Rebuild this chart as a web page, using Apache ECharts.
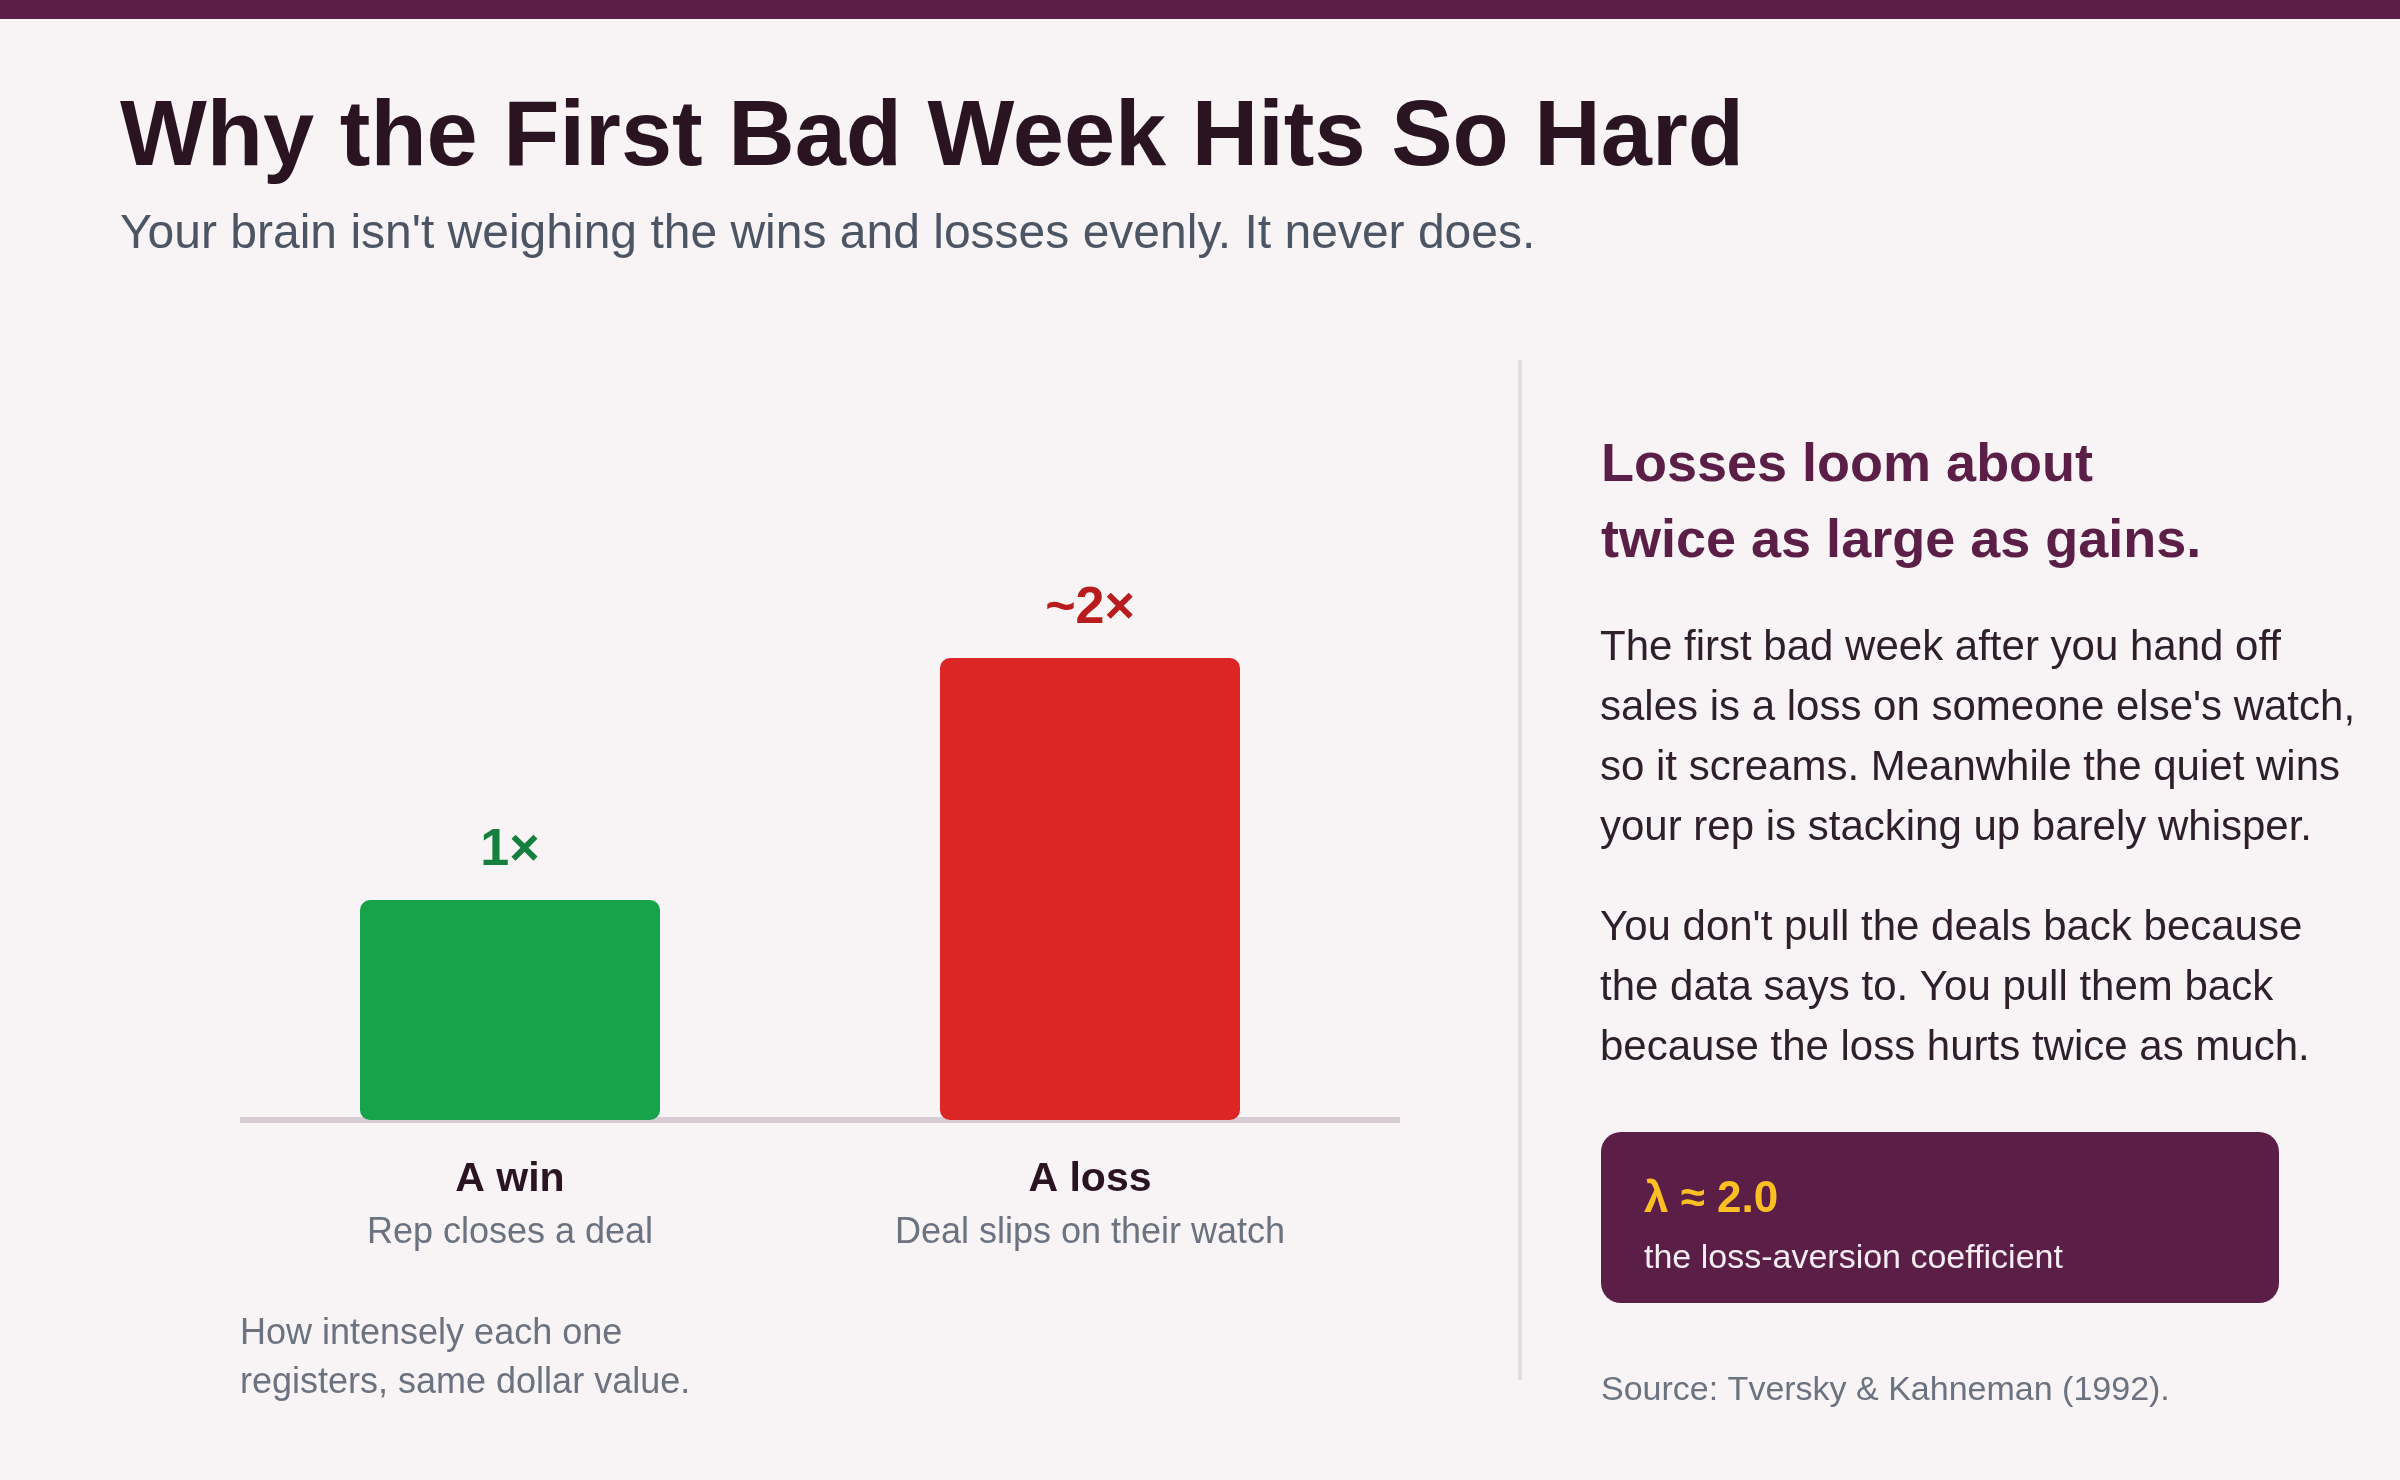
<!DOCTYPE html>
<html lang="en">
<head>
    <meta charset="UTF-8">
    <title>Why the First Bad Week Hits So Hard</title>
    <script src="https://cdn.jsdelivr.net/npm/echarts@6/dist/echarts.min.js"></script>
    <style>
        html, body { margin: 0; padding: 0; background: #f8f4f6; }
        #chart { width: 2400px; height: 1480px; }
    </style>
</head>
<body>
<div id="chart"></div>
<script>
    /* data */
    var categories = ['A win', 'A loss'];
    var subLabels = ['Rep closes a deal', 'Deal slips on their watch'];
    var intensity = [1, 2.1];
    var valueLabels = ['1×', '~2×'];
    var barColors = ['#16a34a', '#dc2626'];
    var labelColors = ['#15803d', '#b91c1c'];

    var FONT = '"Liberation Sans", Arial, Helvetica, sans-serif';
    var PLUM = '#5b1f47';

    var barData = intensity.map(function (v, i) {
        return {
            value: v,
            itemStyle: { color: barColors[i] },
            label: { color: labelColors[i], formatter: valueLabels[i] }
        };
    });

    var option = {
        backgroundColor: '#f8f4f6',
        animation: false,
        textStyle: { fontFamily: FONT },
        grid: { left: 220, width: 1160, top: 570, height: 550 },
        xAxis: {
            type: 'category',
            data: categories,
            axisLine: { show: false },
            axisTick: { show: false },
            axisLabel: {
                margin: 35,
                formatter: function (val, idx) {
                    return '{t|' + val + '}\n{s|' + subLabels[idx] + '}';
                },
                rich: {
                    t: { fontFamily: FONT, fontSize: 41, fontWeight: 'bold', color: '#2a1422', lineHeight: 50 },
                    s: { fontFamily: FONT, fontSize: 36, color: '#6b7280', lineHeight: 56 }
                }
            }
        },
        yAxis: {
            type: 'value',
            min: 0,
            max: 2.5,
            show: false,
            splitLine: { show: false }
        },
        series: [{
            type: 'bar',
            data: barData,
            barWidth: 300,
            itemStyle: { borderRadius: 10 },
            label: {
                show: true,
                position: 'top',
                distance: 23,
                fontFamily: FONT,
                fontSize: 52,
                fontWeight: 'bold'
            }
        }],
        graphic: [
            // top band
            { type: 'rect', z: 0, shape: { x: 0, y: 0, width: 2400, height: 19 }, style: { fill: PLUM } },
            // title + subtitle
            { type: 'text', x: 120, y: 140, style: { text: 'Why the First Bad Week Hits So Hard', font: 'bold 92px ' + FONT, fill: '#2a1422', verticalAlign: 'middle' } },
            { type: 'text', x: 120, y: 235, style: { text: "Your brain isn't weighing the wins and losses evenly. It never does.", font: '48px ' + FONT, fill: '#4b5563', verticalAlign: 'middle' } },
            // chart baseline
            { type: 'rect', z: 0, shape: { x: 240, y: 1117, width: 1160, height: 6 }, style: { fill: '#d8ccd4' } },
            // note under chart
            { type: 'text', x: 240, y: 1310, style: { text: 'How intensely each one\nregisters, same dollar value.', font: '36px ' + FONT, lineHeight: 49, fill: '#6b7280', verticalAlign: 'top' } },
            // divider
            { type: 'rect', z: 0, shape: { x: 1518, y: 360, width: 4, height: 1020 }, style: { fill: '#e6dce2' } },
            // right panel
            { type: 'text', x: 1601, y: 428, style: { text: 'Losses loom about\ntwice as large as gains.', font: 'bold 54px ' + FONT, lineHeight: 76, fill: PLUM, verticalAlign: 'top' } },
            { type: 'text', x: 1600, y: 618, style: { text: "The first bad week after you hand off\nsales is a loss on someone else's watch,\nso it screams. Meanwhile the quiet wins\nyour rep is stacking up barely whisper.", font: '42px ' + FONT, lineHeight: 60, fill: '#2e1f2b', verticalAlign: 'top' } },
            { type: 'text', x: 1600, y: 898, style: { text: "You don't pull the deals back because\nthe data says to. You pull them back\nbecause the loss hurts twice as much.", font: '42px ' + FONT, lineHeight: 60, fill: '#2e1f2b', verticalAlign: 'top' } },
            { type: 'rect', z: 0, shape: { x: 1601, y: 1132, width: 678, height: 171, r: 20 }, style: { fill: PLUM } },
            { type: 'text', z: 1, x: 1644, y: 1200, style: { text: 'λ ≈ 2.0', font: 'bold 44px ' + FONT, fill: '#fbbf24', verticalAlign: 'middle' } },
            { type: 'text', z: 1, x: 1644, y: 1259, style: { text: 'the loss-aversion coefficient', font: '34px ' + FONT, fill: '#f5edf2', verticalAlign: 'middle' } },
            { type: 'text', x: 1601, y: 1391, style: { text: 'Source: Tversky & Kahneman (1992).', font: '34px ' + FONT, fill: '#6b7280', verticalAlign: 'middle' } }
        ]
    };

    var chart = echarts.init(document.getElementById('chart'));
    chart.setOption(option);
</script>
</body>
</html>
